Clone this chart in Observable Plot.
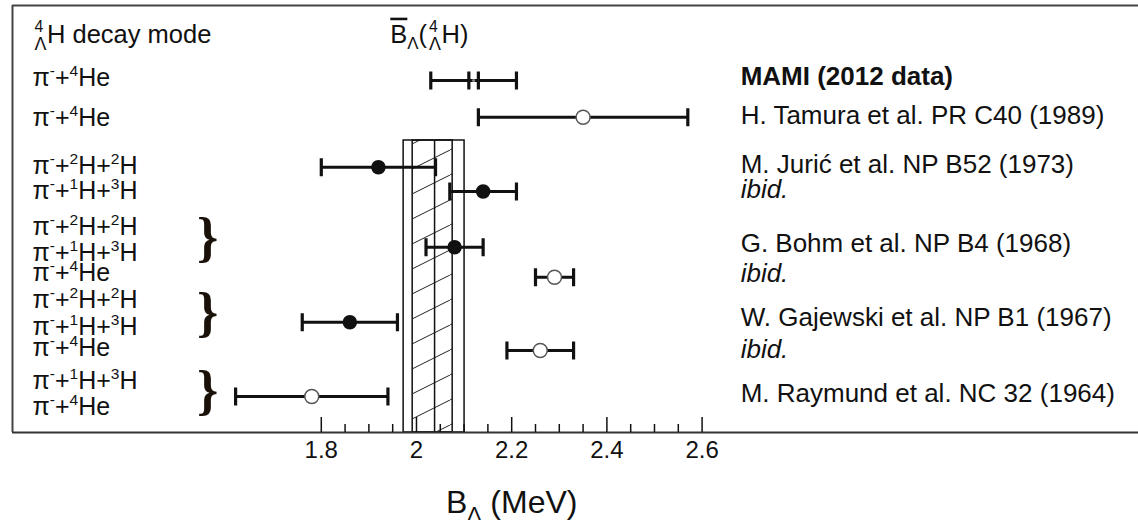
<!DOCTYPE html>
<html>
<head>
<meta charset="utf-8">
<script src="https://cdn.jsdelivr.net/npm/d3@7"></script>
<script src="https://cdn.jsdelivr.net/npm/@observablehq/plot@0.6"></script>
<style>
  html, body { margin: 0; padding: 0; background: #fff; overflow: hidden; }
  #chart { position: relative; width: 1138px; height: 520px; overflow: hidden; }
</style>
</head>
<body>
<svg width="0" height="0" style="position:absolute">
  <defs>
    <pattern id="hatch" patternUnits="userSpaceOnUse" width="50" height="25">
      <path d="M-5,27.5L55,-2.5" stroke="#222" stroke-width="1" fill="none"/>
    </pattern>
  </defs>
</svg>
<div id="chart"></div>
<script>
// ---------- data ----------
const measurements = ["MAMI", "Tamura", "Juric 2H+2H", "Juric 1H+3H", "Bohm 2H+2H/1H+3H", "Bohm 4He", "Gajewski 2H+2H/1H+3H", "Gajewski 4He", "Raymund"];
const rowPos   = [3.0, 4.47, 6.47, 7.44, 9.67, 10.87, 12.67, 13.8, 15.64];   // vertical slot (line units, top = 0)
const centers  = [2.12, 2.35, 1.92, 2.14, 2.08, 2.29, 1.86, 2.26, 1.78];
const lows     = [2.03, 2.13, 1.80, 2.07, 2.02, 2.25, 1.76, 2.19, 1.62];
const highs    = [2.21, 2.57, 2.04, 2.21, 2.14, 2.33, 1.96, 2.33, 1.94];
const markers  = ["none", "open", "filled", "filled", "filled", "open", "filled", "open", "open"];
const mamiStat = [2.11, 2.13];

const decayLabels = ["π^{-}+^{4}He", "π^{-}+^{4}He", "π^{-}+^{2}H+^{2}H", "π^{-}+^{1}H+^{3}H",
  "π^{-}+^{2}H+^{2}H", "π^{-}+^{1}H+^{3}H", "π^{-}+^{4}He",
  "π^{-}+^{2}H+^{2}H", "π^{-}+^{1}H+^{3}H", "π^{-}+^{4}He",
  "π^{-}+^{1}H+^{3}H", "π^{-}+^{4}He"];
const decayPos = [2.88, 4.48, 6.4, 7.4, 8.84, 9.88, 10.68, 11.76, 12.84, 13.68, 15.0, 16.04];

const refLabels = ["MAMI (2012 data)", "H. Tamura et al. PR C40 (1989)", "M. Jurić et al. NP B52 (1973)", "ibid.",
  "G. Bohm et al. NP B4 (1968)", "ibid.", "W. Gajewski et al. NP B1 (1967)", "ibid.", "M. Raymund et al. NC 32 (1964)"];
const refPos   = [2.84, 4.4, 6.36, 7.36, 9.52, 10.72, 12.48, 13.76, 15.52];
const refStyle = ["bold", "normal", "normal", "italic", "normal", "italic", "normal", "italic", "normal"];

const bracePos = [9.28, 12.28, 15.4];

const band = {mean: 2.038, statLo: 1.992, statHi: 2.076, totLo: 1.973, totHi: 2.101, top: 5.4, bottom: 17.08};

const majorTicks = [1.8, 2.0, 2.2, 2.4, 2.6];
const majorTickLabels = ["1.8", "2", "2.2", "2.4", "2.6"];
const minorTicks = [1.85, 1.9, 1.95, 2.05, 2.1, 2.15, 2.25, 2.3, 2.35, 2.45, 2.5, 2.55];

const xDomain = [1.1513, 3.5168];
const yDomain = [0, 17.08];
const headerY = 1.16;
const leftHeader = "@{4}{Λ}H decay mode";
const bandHeader = "~{B}_{Λ}(@{4}{Λ}H)";
const xTitle = "B_{Λ} (MeV)";
const bandHeaderX = 1.945, braceX = 1.561, refX = 2.681, xTitleX = 2.2;

// ---------- tables ----------
const points = measurements.map((m, i) => ({m, y: rowPos[i], v: centers[i], lo: lows[i], hi: highs[i], marker: markers[i]}));
const caps = points.flatMap(p => [{x: p.lo, y: p.y}, {x: p.hi, y: p.y}])
  .concat(mamiStat.map(v => ({x: v, y: rowPos[0]})));
const decays = decayLabels.map((t, i) => ({t, y: decayPos[i]}));
const refs = refLabels.map((t, i) => ({t, y: refPos[i], s: refStyle[i]}));
const ticksMajor = majorTicks.map((v, i) => ({v, t: majorTickLabels[i]}));

const capSymbol = {
  draw(ctx, size) {
    const h = Math.sqrt(size / Math.PI);
    ctx.moveTo(0, -h);
    ctx.lineTo(0, h);
  }
};

const ink = "#111";
const chart = Plot.plot({
  width: 1138,
  height: 520,
  marginTop: 5,
  marginBottom: 88,
  marginLeft: 12,
  marginRight: 0,
  x: {domain: xDomain, axis: null},
  y: {domain: yDomain, reverse: true, axis: null},
  style: {fontFamily: "'Liberation Sans', Arial, sans-serif", background: "#fff", color: ink},
  marks: [
    // band
    Plot.rect([band], {x1: "statLo", x2: "statHi", y1: "top", y2: "bottom", fill: "url(#hatch)", stroke: ink, strokeWidth: 1.5}),
    Plot.rect([band], {x1: "totLo", x2: "totHi", y1: "top", y2: "bottom", fill: "none", stroke: ink, strokeWidth: 1.5}),
    Plot.ruleX([band], {x: "mean", y1: "top", y2: "bottom", stroke: ink, strokeWidth: 1.5}),
    // frame (top, left, bottom axis line)
    Plot.ruleY([yDomain[0]], {stroke: "#444", strokeWidth: 2}),
    Plot.ruleY([yDomain[1]], {stroke: "#333", strokeWidth: 2}),
    Plot.ruleX([xDomain[0]], {stroke: "#444", strokeWidth: 2}),
    // ticks pointing inward
    Plot.tickX(majorTicks, {x: d => d, insetTop: 412, stroke: ink, strokeWidth: 1.5}),
    Plot.tickX(minorTicks, {x: d => d, insetTop: 419, stroke: ink, strokeWidth: 1.5}),
    Plot.text(ticksMajor, {x: "v", text: "t", frameAnchor: "bottom", dy: 25, fontSize: 24, fill: ink}),
    Plot.text([xTitle], {x: xTitleX, frameAnchor: "bottom", dy: 80, fontSize: 32, fill: ink}),
    // error bars
    Plot.ruleY(points, {y: "y", x1: "lo", x2: "hi", stroke: ink, strokeWidth: 3.2}),
    Plot.dot(caps, {x: "x", y: "y", r: 9, symbol: capSymbol, fill: "none", stroke: ink, strokeWidth: 3.2}),
    Plot.dot(points.filter(p => p.marker === "filled"), {x: "v", y: "y", r: 6.5, fill: ink, stroke: ink}),
    Plot.dot(points.filter(p => p.marker === "open"), {x: "v", y: "y", r: 7, fill: "#fff", stroke: "#555", strokeWidth: 1.5}),
    Plot.dot(points.filter(p => p.marker === "none"), {x: "v", y: "y", r: 1.5, fill: "#888", stroke: "none"}),
    // headers
    Plot.text([leftHeader], {frameAnchor: "left", dx: 20, y: headerY, textAnchor: "start", fontSize: 25.5, fill: ink}),
    Plot.text([bandHeader], {x: bandHeaderX, y: headerY, textAnchor: "start", fontSize: 25.5, fill: ink}),
    // decay labels
    Plot.text(decays, {frameAnchor: "left", dx: 20, y: "y", text: "t", textAnchor: "start", fontSize: 25, fill: ink}),
    // braces
    Plot.text(bracePos, {x: braceX, y: d => d, text: () => "}", fontSize: 54, fontFamily: "'Liberation Serif', serif", fontWeight: "bold", fill: "#1a1208"}),
    // references
    Plot.text(refs.filter(r => r.s === "bold"), {x: refX, y: "y", text: "t", textAnchor: "start", fontSize: 26, fontWeight: "bold", fill: ink}),
    Plot.text(refs.filter(r => r.s === "normal"), {x: refX, y: "y", text: "t", textAnchor: "start", fontSize: 26, fill: ink}),
    Plot.text(refs.filter(r => r.s === "italic"), {x: refX, y: "y", text: "t", textAnchor: "start", fontSize: 26, fontStyle: "italic", fill: ink})
  ]
});
document.getElementById("chart").append(chart);

// ---------- rich text (super/subscripts, stacked pre-scripts, overline) ----------
(function richify(svg) {
  const ns = "http://www.w3.org/2000/svg";
  svg.querySelectorAll("text").forEach(t => {
    if (t.querySelector("tspan")) return;
    const s = t.textContent;
    if (!/[\^_~@]\{/.test(s)) return;
    const fs = parseFloat(getComputedStyle(t).fontSize) || 25;
    const re = /(\^|_|~|@)\{([^}]*)\}(?:\{([^}]*)\})?/g;
    t.textContent = "";
    let cur = 0, last = 0, pendingDx = 0, m;
    const shift = target => { const d = target - cur; cur = target; return d; };
    const add = (str, attrs) => {
      const sp = document.createElementNS(ns, "tspan");
      sp.textContent = str;
      if (pendingDx) { attrs.dx = (attrs.dx || 0) + pendingDx; pendingDx = 0; }
      for (const k in attrs) sp.setAttribute(k, attrs[k]);
      t.appendChild(sp);
      return sp;
    };
    while ((m = re.exec(s))) {
      if (m.index > last) add(s.slice(last, m.index), {dy: shift(0)});
      const k = m[1];
      if (k === "^") add(m[2], {dy: shift(-0.4 * fs), "font-size": 0.62 * fs});
      else if (k === "_") add(m[2], {dy: shift(0.25 * fs), "font-size": 0.66 * fs});
      else if (k === "~") add(m[2], {dy: shift(0), "text-decoration": "overline"});
      else if (k === "@") {
        const a = add(m[2], {dy: shift(-0.42 * fs), dx: 0.08 * fs, "font-size": 0.62 * fs});
        const wa = a.getComputedTextLength();
        const b = add(m[3] || "", {dy: shift(0.3 * fs), dx: -wa, "font-size": 0.7 * fs});
        const wb = b.getComputedTextLength();
        pendingDx = Math.max(0, wa - wb) + 0.02 * fs;
      }
      last = re.lastIndex;
    }
    if (last < s.length) add(s.slice(last), {dy: shift(0)});
  });
})(chart);
</script>
</body>
</html>
